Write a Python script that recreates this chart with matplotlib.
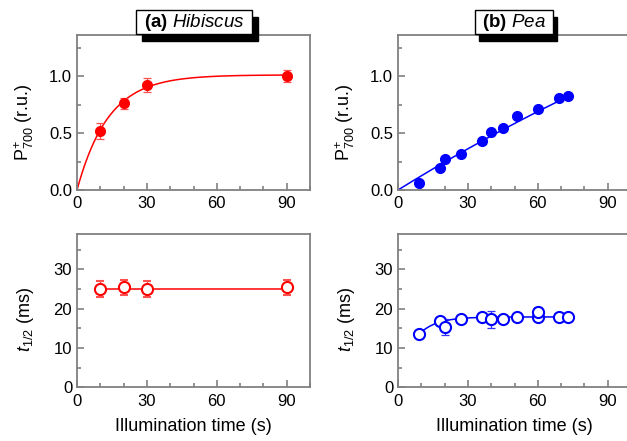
import numpy as np
import matplotlib
matplotlib.use("Agg")
import matplotlib.pyplot as plt
from matplotlib.patches import Rectangle
from matplotlib.ticker import MultipleLocator

plt.rcParams['font.family'] = 'Liberation Sans'
plt.rcParams['mathtext.fontset'] = 'custom'
plt.rcParams['mathtext.rm'] = 'Liberation Sans'
plt.rcParams['mathtext.it'] = 'Liberation Sans:italic'
plt.rcParams['mathtext.bf'] = 'Liberation Sans:bold'

# --- Hibiscus ---
hib_time = [10, 20, 30, 90]
hib_p700 = [0.52, 0.76, 0.92, 1.00]
hib_p700_err = [0.07, 0.05, 0.06, 0.05]
hib_thalf = [25.0, 25.4, 25.0, 25.4]
hib_thalf_err = [2.0, 2.0, 2.0, 2.0]
hib_fit_amp, hib_fit_tau = 1.01, 13.5     # P700+ = A(1 - exp(-t/tau))
hib_thalf_mean = 25.1

# --- Pea ---
pea_time = [9, 18, 20, 27, 36, 40, 45, 51, 60, 69, 73]
pea_p700 = [0.06, 0.19, 0.27, 0.32, 0.43, 0.51, 0.54, 0.65, 0.71, 0.81, 0.825]
pea_fit_amp, pea_fit_tau = 3.8, 300.0
pea_t_time = [9, 18, 20, 27, 36, 40, 45, 51, 60, 60, 69, 73]
pea_thalf = [13.5, 16.9, 15.4, 17.4, 17.8, 17.3, 17.4, 17.9, 17.8, 19.1, 17.9, 17.9]
pea_thalf_err = [0, 0, 2.0, 0, 0, 2.1, 0, 0, 0, 1.4, 0, 0]
pea_t_plateau, pea_t_drop, pea_t_tau = 17.9, 14.9, 7.4

RED = '#ff0000'
BLUE = '#0000ff'

fig = plt.figure(figsize=(6.27, 4.41), dpi=100)
W, H = 627.0, 441.0


def make_ax(left_px, top_px, bottom_px, width_px=233):
    return fig.add_axes([left_px / W, 1 - bottom_px / H, width_px / W, (bottom_px - top_px) / H])


ax_a = make_ax(77, 35, 190)
ax_b = make_ax(398, 35, 190)
ax_c = make_ax(77, 234, 387.3)
ax_d = make_ax(398, 234, 387.3)


def style(ax, top):
    for s in ax.spines.values():
        s.set_color('0.5')
        s.set_linewidth(1.3)
    ax.set_xlim(0, 100)
    ax.xaxis.set_major_locator(MultipleLocator(30))
    ax.xaxis.set_minor_locator(MultipleLocator(10))
    if top:
        ax.set_ylim(0, 1.36)
        ax.yaxis.set_major_locator(MultipleLocator(0.5))
        ax.yaxis.set_minor_locator(MultipleLocator(0.25))
        ax.yaxis.set_major_formatter(matplotlib.ticker.FormatStrFormatter('%.1f'))
        ax.set_ylabel(r'$\mathrm{P}^{+}_{700}$ (r.u.)', fontsize=13)
    else:
        ax.set_ylim(0, 39)
        ax.yaxis.set_major_locator(MultipleLocator(10))
        ax.yaxis.set_minor_locator(MultipleLocator(5))
        ax.set_ylabel(r'$t_{1/2}$ (ms)', fontsize=13)
        ax.set_xlabel('Illumination time (s)', fontsize=13)
        ax.xaxis.set_label_coords(0.5, -0.2)
        ax.xaxis.label.set_va('top')
    ax.yaxis.set_label_coords(-0.178, 0.44)
    ax.tick_params(which='both', direction='in', color='0.5', width=1.2,
                   labelsize=12, top=False, right=False)
    ax.tick_params(which='major', length=5)
    ax.tick_params(which='minor', length=3)
    ax.tick_params(axis='x', pad=4.5)
    ax.tick_params(axis='y', pad=3.5)


for ax, top in [(ax_a, True), (ax_b, True), (ax_c, False), (ax_d, False)]:
    style(ax, top)

# (a) Hibiscus P700+
t = np.linspace(0, 90, 300)
ax_a.plot(t, hib_fit_amp * (1 - np.exp(-t / hib_fit_tau)), color=RED, lw=1.1, zorder=2)
ax_a.errorbar(hib_time, hib_p700, yerr=hib_p700_err, fmt='o', color=RED, ms=7,
              ecolor='#ff5050', elinewidth=0.9, capsize=3, capthick=0.9, zorder=3)

# (b) Pea P700+
t = np.linspace(0, max(pea_time), 300)
ax_b.plot(t, pea_fit_amp * (1 - np.exp(-t / pea_fit_tau)), color=BLUE, lw=1.1, zorder=2)
ax_b.plot(pea_time, pea_p700, 'o', color=BLUE, ms=7, zorder=3)

# (c) Hibiscus t1/2
ax_c.plot([min(hib_time), max(hib_time)], [hib_thalf_mean] * 2, color=RED, lw=1.1, zorder=2)
ax_c.errorbar(hib_time, hib_thalf, yerr=hib_thalf_err, fmt='o', color=RED, ms=8,
              mfc='white', mew=1.5, ecolor='#ff5050', elinewidth=0.9, capsize=3,
              capthick=0.9, zorder=3)

# (d) Pea t1/2
t = np.linspace(min(pea_t_time), max(pea_t_time), 300)
ax_d.plot(t, pea_t_plateau - pea_t_drop * np.exp(-t / pea_t_tau), color=BLUE, lw=1.1, zorder=2)
err = np.array(pea_thalf_err)
m = err > 0
ax_d.errorbar(np.array(pea_t_time)[m], np.array(pea_thalf)[m], yerr=err[m], fmt='none',
              ecolor='#3030ff', elinewidth=0.9, capsize=3, capthick=0.9, zorder=2.5)
ax_d.plot(pea_t_time, pea_thalf, 'o', color=BLUE, ms=8, mfc='white', mew=1.5, zorder=3)


def title_box(ax, label, x0, w, shadow_dx):
    h = 24 / 155.0
    y0 = 1.006
    ax.add_patch(Rectangle((x0 + shadow_dx / 233.0, y0 - 7 / 155.0), w, h, transform=ax.transAxes,
                           facecolor='black', edgecolor='black', clip_on=False, zorder=5))
    ax.add_patch(Rectangle((x0, y0), w, h, transform=ax.transAxes, facecolor='white',
                           edgecolor='black', lw=1.0, clip_on=False, zorder=6))
    ax.text(x0 + w / 2, y0 + h / 2, label, transform=ax.transAxes, ha='center', va='center',
            fontsize=13.5, zorder=7)


title_box(ax_a, r'$\mathbf{(a)}$ $\mathit{Hibiscus}$', 0.253, 116 / 233.0, 6)
title_box(ax_b, r'$\mathbf{(b)}$ $\mathit{Pea}$', 0.330, 78 / 233.0, 4)

fig.savefig('out.png', dpi=100)
